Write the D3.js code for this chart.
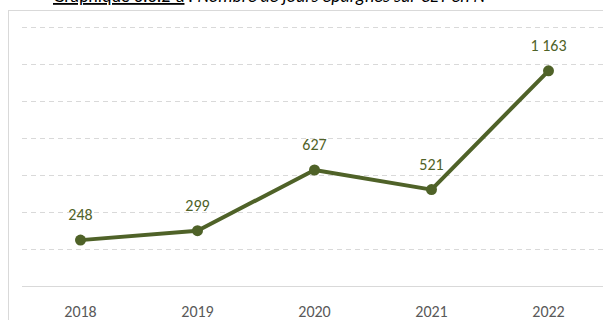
<!DOCTYPE html>
<html>
<head>
<meta charset="utf-8">
<script src="https://cdn.jsdelivr.net/npm/d3@7"></script>
<style>
  html, body { margin: 0; padding: 0; background: #fff; }
  svg { display: block; }
</style>
</head>
<body>
<svg id="chart" width="603" height="320"></svg>
<script>
// Jours épargnés sur CET, par année
const years = ["2018", "2019", "2020", "2021", "2022"];
const days = [248, 299, 627, 521, 1163];
const valueLabels = ["248", "299", "627", "521", "1 163"];
const gridTicks = [200, 400, 600, 800, 1000, 1200, 1400];

(function () {
  const W = 603;
  const svg = d3.select("#chart");
  const font = "Carlito, Lato, 'Liberation Sans', sans-serif";

  // Chart frame
  svg.append("rect")
    .attr("x", 8.5).attr("y", 10.5)
    .attr("width", 700).attr("height", 400)
    .attr("fill", "#fff").attr("stroke", "#d9d9d9").attr("stroke-width", 1);

  // Title (partly above the frame)
  const title = svg.append("text")
    .attr("x", 53).attr("y", 2)
    .attr("font-family", font).attr("font-size", 18).attr("fill", "#000");
  title.append("tspan").attr("text-decoration", "underline").text("Graphique 3.3.2-a");
  title.append("tspan").attr("font-style", "italic").text(" : Nombre de jours épargnés sur CET en N");

  const plotLeft = 22, plotRight = 607, plotTop = 27, plotBottom = 286;

  const x = d3.scaleBand().domain(years).range([plotLeft, plotRight]);
  const y = d3.scaleLinear().domain([0, 1400]).range([plotBottom, plotTop]);

  // Dashed gridlines
  svg.append("g").selectAll("line").data(gridTicks).join("line")
    .attr("x1", plotLeft).attr("x2", W)
    .attr("y1", d => Math.round(y(d)) + 0.5).attr("y2", d => Math.round(y(d)) + 0.5)
    .attr("stroke", "#d9d9d9").attr("stroke-width", 1).attr("stroke-dasharray", "5,4");

  // Category axis
  const xAxis = svg.append("g")
    .attr("transform", `translate(0,${plotBottom + 0.5})`)
    .call(d3.axisBottom(x).tickSize(0).tickPadding(19));
  xAxis.select(".domain").attr("stroke", "#d9d9d9").attr("d", `M${plotLeft},0H${W}`);
  xAxis.selectAll("text")
    .attr("font-family", font).attr("font-size", 16).attr("fill", "#595959");

  const cx = d => x(d) + x.bandwidth() / 2;
  const color = "#4f6228";

  // Line
  svg.append("path")
    .datum(years.map((yr, i) => [cx(yr), y(days[i])]))
    .attr("d", d3.line())
    .attr("fill", "none").attr("stroke", color).attr("stroke-width", 4)
    .attr("stroke-linejoin", "round");

  // Markers
  svg.append("g").selectAll("circle").data(years).join("circle")
    .attr("cx", d => cx(d)).attr("cy", (d, i) => y(days[i]))
    .attr("r", 5.5).attr("fill", color);

  // Value labels
  svg.append("g").selectAll("text").data(years).join("text")
    .attr("x", d => cx(d)).attr("y", (d, i) => y(days[i]) - 20)
    .attr("text-anchor", "middle")
    .attr("font-family", font).attr("font-size", 16).attr("fill", color)
    .text((d, i) => valueLabels[i]);
})();
</script>
</body>
</html>
